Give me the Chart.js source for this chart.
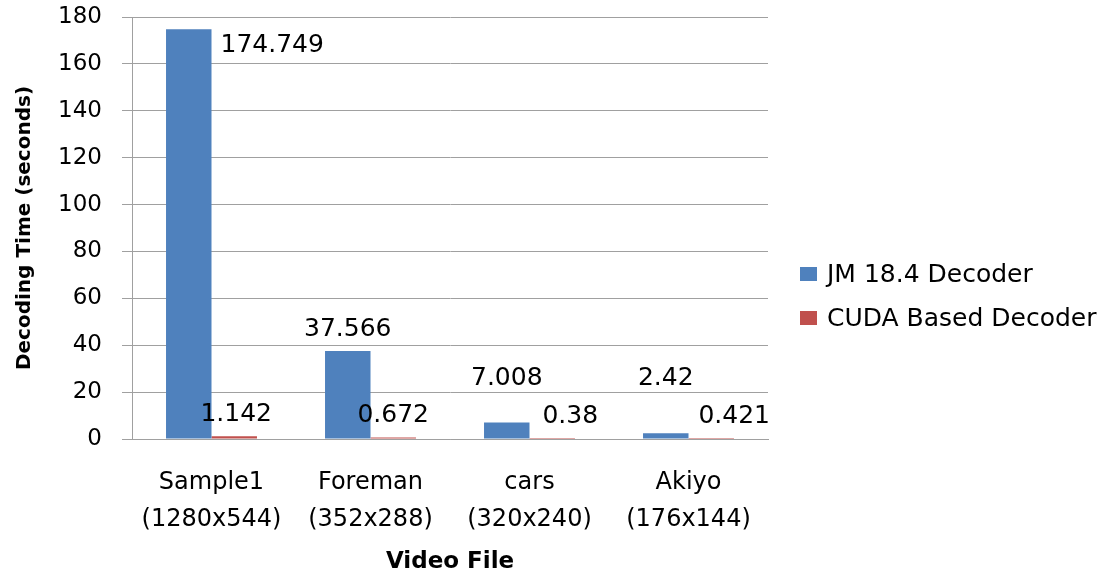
<!DOCTYPE html>
<html>
<head>
<meta charset="utf-8">
<title>Decoding Time</title>
<script src="https://cdn.jsdelivr.net/npm/chart.js@4.4.1/dist/chart.umd.min.js"></script>
<style>
    html, body { margin: 0; padding: 0; background: #ffffff; }
    #wrap { width: 1108px; height: 576px; position: relative; }
</style>
</head>
<body>
<div id="wrap"><canvas id="decodeChart"></canvas></div>
<script>
// values
const categories = [
    ['Sample1', '(1280x544)'],
    ['Foreman', '(352x288)'],
    ['cars', '(320x240)'],
    ['Akiyo', '(176x144)'],
];
const jmTimes = [174.749, 37.566, 7.008, 2.42];
const cudaTimes = [1.142, 0.672, 0.38, 0.421];
const seriesNames = ['JM 18.4 Decoder', 'CUDA Based Decoder'];
const yMin = 0;
const yMax = 180;
const yStep = 20;

const FONT = "'DejaVu Sans', sans-serif";
const GRID = '#a0a0a0';

// value labels: placed above the bar, never lower than a floor value,
// and to the right of the bar when it would hit the top of the plot
const valueLabels = {
    id: 'valueLabels',
    afterDatasetsDraw(chart, args, opts) {
        const ctx = chart.ctx;
        const yScale = chart.scales.y;
        const area = chart.chartArea;
        ctx.save();
        ctx.font = opts.size + 'px ' + FONT;
        ctx.fillStyle = '#000';
        chart.data.datasets.forEach((ds, di) => {
            const meta = chart.getDatasetMeta(di);
            meta.data.forEach((bar, i) => {
                const text = String(ds.data[i]);
                const floorY = yScale.getPixelForValue(opts.floors[di]);
                let baseY = Math.min(bar.y - 15, floorY);
                if (baseY - opts.size < area.top) {
                    ctx.textAlign = 'left';
                    ctx.fillText(text, bar.x + bar.width / 2 + 9, bar.y + 23);
                    return;
                }
                ctx.textAlign = 'center';
                ctx.fillText(text, bar.x + (opts.nudge[di][i] || 0), baseY);
            });
        });
        ctx.restore();
    }
};

// legend drawn in the free space on the right of the plot
const sideLegend = {
    id: 'sideLegend',
    afterDraw(chart, args, opts) {
        const ctx = chart.ctx;
        const x = chart.chartArea.right + opts.offsetX;
        const rows = chart.data.datasets.length;
        let y = chart.height / 2 + opts.offsetY - (rows - 1) * opts.rowGap / 2;
        ctx.save();
        ctx.font = opts.size + 'px ' + FONT;
        ctx.textAlign = 'left';
        ctx.textBaseline = 'middle';
        chart.data.datasets.forEach(ds => {
            ctx.fillStyle = ds.backgroundColor;
            ctx.fillRect(x, y - 7, 17, 14);
            ctx.fillStyle = '#000';
            ctx.fillText(ds.label, x + 27, y + 1);
            y += opts.rowGap;
        });
        ctx.restore();
    }
};

new Chart(document.getElementById('decodeChart'), {
    type: 'bar',
    data: {
        labels: categories,
        datasets: [
            {
                label: seriesNames[0],
                data: jmTimes,
                backgroundColor: '#4f81bd',
                borderWidth: 0,
                categoryPercentage: 0.572,
                barPercentage: 1,
            },
            {
                label: seriesNames[1],
                data: cudaTimes,
                backgroundColor: '#c0504d',
                borderWidth: 0,
                categoryPercentage: 0.572,
                barPercentage: 1,
            },
        ],
    },
    options: {
        responsive: true,
        maintainAspectRatio: false,
        animation: false,
        layout: { padding: { top: 0, left: 0, right: 340, bottom: 0 } },
        plugins: {
            tooltip: { enabled: false },
            legend: { display: false },
            sideLegend: { size: 25, offsetX: 32, offsetY: 8, rowGap: 44 },
            valueLabels: {
                size: 25,
                floors: [23, 6],
                nudge: [[0, 0, 0, 0], [2, 0, 18, 23]],
            },
        },
        scales: {
            x: {
                grid: { display: false, drawTicks: false },
                border: { display: true, color: GRID },
                ticks: {
                    color: '#000',
                    font: { family: FONT, size: 24, lineHeight: 1.55 },
                    padding: 25,
                    maxRotation: 0,
                },
                title: {
                    display: true,
                    text: 'Video File',
                    color: '#000',
                    font: { family: FONT, size: 23, weight: 'bold' },
                    padding: { top: 11, bottom: 0 },
                },
                afterFit(scale) {
                    scale.height = 137;
                    scale.paddingLeft = 0;
                    scale.paddingRight = 0;
                },
            },
            y: {
                min: yMin,
                max: yMax,
                ticks: {
                    stepSize: yStep,
                    color: '#000',
                    font: { family: FONT, size: 23 },
                    padding: 20,
                },
                grid: { color: GRID, tickLength: 10 },
                border: { color: GRID },
                title: {
                    display: true,
                    text: 'Decoding Time (seconds)',
                    color: '#000',
                    font: { family: FONT, size: 20, weight: 'bold' },
                    padding: { top: 13, bottom: 10 },
                },
                afterFit(scale) {
                    scale.width = 132;
                    scale.paddingTop = 17;
                    scale.paddingBottom = 14;
                },
            },
        },
    },
    plugins: [valueLabels, sideLegend],
});
</script>
</body>
</html>
